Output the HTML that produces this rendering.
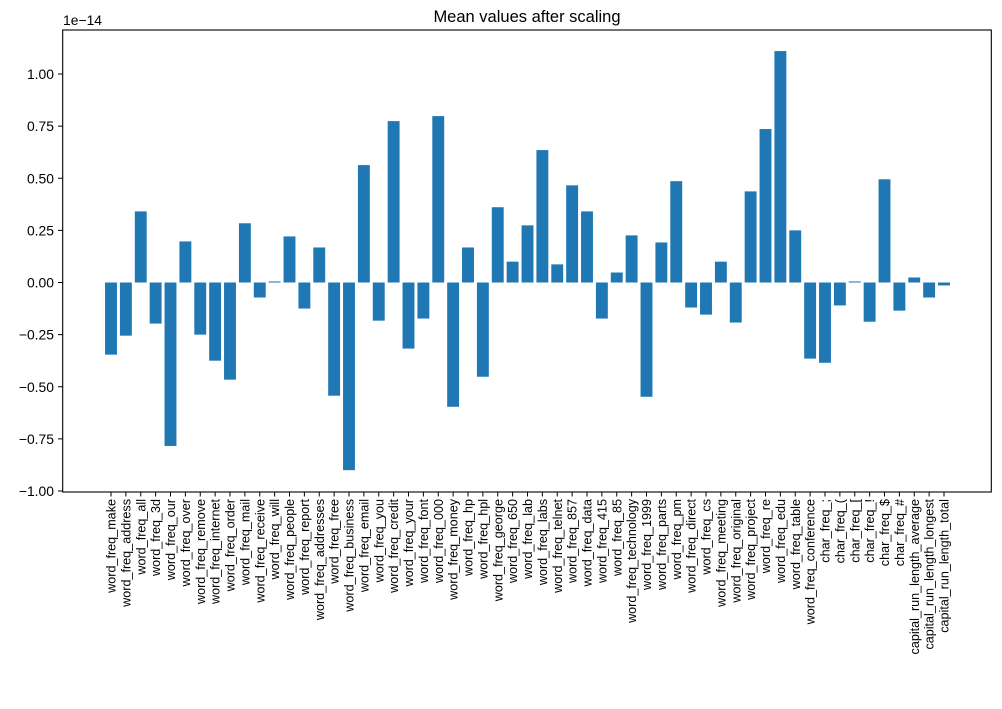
<!DOCTYPE html>
<html><head><meta charset="utf-8"><style>
body{margin:0;background:#fff;}
svg{font-family:"Liberation Sans","DejaVu Sans",sans-serif;}
</style></head><body>
<svg id="chart" width="1002" height="704" viewBox="0 0 1002 704">
<rect width="1002" height="704" fill="#fff"/>
<text x="527" y="22" text-anchor="middle" font-size="16.5">Mean values after scaling</text>
<text x="63" y="25" font-size="13.9">1e−14</text>
<g id="bars"></g>
<g id="yticks"></g>
<g id="xticks"></g>
<rect x="62.7" y="30" width="928.6" height="462" fill="none" stroke="#000" stroke-width="1.1"/>
</svg>
<script>
const categories=["word_freq_make","word_freq_address","word_freq_all","word_freq_3d","word_freq_our","word_freq_over","word_freq_remove","word_freq_internet","word_freq_order","word_freq_mail","word_freq_receive","word_freq_will","word_freq_people","word_freq_report","word_freq_addresses","word_freq_free","word_freq_business","word_freq_email","word_freq_you","word_freq_credit","word_freq_your","word_freq_font","word_freq_000","word_freq_money","word_freq_hp","word_freq_hpl","word_freq_george","word_freq_650","word_freq_lab","word_freq_labs","word_freq_telnet","word_freq_857","word_freq_data","word_freq_415","word_freq_85","word_freq_technology","word_freq_1999","word_freq_parts","word_freq_pm","word_freq_direct","word_freq_cs","word_freq_meeting","word_freq_original","word_freq_project","word_freq_re","word_freq_edu","word_freq_table","word_freq_conference","char_freq_;","char_freq_(","char_freq_[","char_freq_!","char_freq_$","char_freq_#","capital_run_length_average","capital_run_length_longest","capital_run_length_total"];
const values=[-0.346,-0.255,0.341,-0.197,-0.784,0.197,-0.25,-0.375,-0.466,0.284,-0.072,0.005,0.221,-0.125,0.168,-0.543,-0.9,0.563,-0.183,0.774,-0.317,-0.173,0.798,-0.596,0.168,-0.452,0.361,0.1,0.274,0.635,0.087,0.466,0.341,-0.173,0.048,0.226,-0.548,0.192,0.486,-0.12,-0.154,0.1,-0.192,0.437,0.736,1.11,0.25,-0.365,-0.385,-0.11,0.005,-0.188,0.495,-0.135,0.024,-0.072,-0.014];
const yTicks=[-1.0,-0.75,-0.5,-0.25,0.0,0.25,0.5,0.75,1.0];
const yTickLabels=["−1.00","−0.75","−0.50","−0.25","0.00","0.25","0.50","0.75","1.00"];
const NS="http://www.w3.org/2000/svg";
const yS=v=>282.5-v*208.5;
const step=(944-111)/(categories.length-1);
const xS=i=>111+i*step;
const bw=step*0.8;
const bars=document.getElementById('bars'),xt=document.getElementById('xticks'),yt=document.getElementById('yticks');
values.forEach((v,i)=>{
 const r=document.createElementNS(NS,'rect');
 const y0=yS(0),y1=yS(v);
 r.setAttribute('x',xS(i)-bw/2);r.setAttribute('width',bw);
 r.setAttribute('y',Math.min(y0,y1));r.setAttribute('height',Math.abs(y1-y0));
 r.setAttribute('fill','#1f77b4');
 
 
 bars.appendChild(r);
});
categories.forEach((c,i)=>{
 const x=xS(i);
 const l=document.createElementNS(NS,'line');
 l.setAttribute('x1',x);l.setAttribute('x2',x);l.setAttribute('y1',492);l.setAttribute('y2',496.5);l.setAttribute('stroke','#000');
 
 
 xt.appendChild(l);
 const t=document.createElementNS(NS,'text');
 t.setAttribute('transform','translate('+(x+4.5)+',499) rotate(-90)');
 t.setAttribute('text-anchor','end');t.setAttribute('font-size','12.6');
 t.textContent=c;
 
 
 xt.appendChild(t);
});
yTicks.forEach((v,i)=>{
 const y=yS(v);
 const l=document.createElementNS(NS,'line');
 l.setAttribute('x1',58);l.setAttribute('x2',62.7);l.setAttribute('y1',y);l.setAttribute('y2',y);l.setAttribute('stroke','#000');
 
 
 yt.appendChild(l);
 const t=document.createElementNS(NS,'text');
 t.setAttribute('x',54);t.setAttribute('y',y+5);t.setAttribute('text-anchor','end');t.setAttribute('font-size','13.9');
 t.textContent=yTickLabels[i];
 
 
 yt.appendChild(t);
});
</script>
</body></html>
